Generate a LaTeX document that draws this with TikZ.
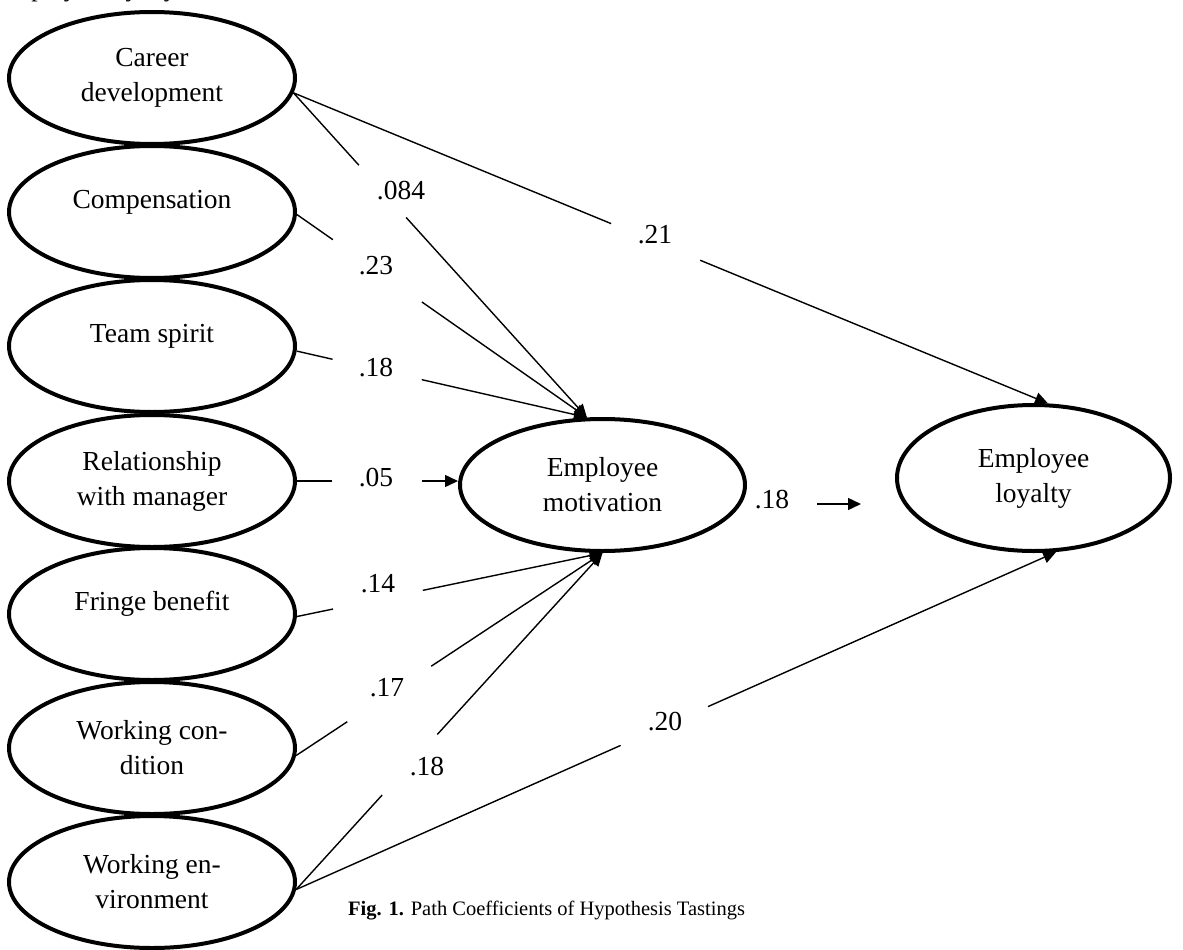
\documentclass[tikz,border=0pt]{standalone}
\usepackage{fontspec}
\setmainfont{Liberation Serif}
\usetikzlibrary{shapes.geometric,arrows.meta,calc}
\begin{document}
\begin{tikzpicture}[x=1pt,y=-1pt,
  latentbase/.style={ellipse,draw,line width=4pt,minimum width=286pt,minimum height=132pt,inner sep=0pt,font=\fontsize{27.5}{35}\selectfont},
  latent/.style={latentbase,align=center},
  single/.style={latentbase,text height=10pt,text depth=18pt},
  link/.style={line width=1.4pt},
  arr/.style={line width=1.4pt,-{Triangle[length=13pt,width=12pt]}},
  coef/.style={anchor=base,font=\fontsize{27.5}{33}\selectfont,inner sep=0pt}]
\useasboundingbox (0,0) rectangle (1183,950);

% cut-off running text at the top (only its descenders show, as in the reference)
\node[anchor=base west,font=\fontsize{25.5}{30}\selectfont,inner sep=0pt] (runin) at (0,-3) {employee loyalty};

% latent variables
\node[latent] (cd)   at (152,78)  {Career\\development};
\node[single] (comp) at (152,212) {Compensation};
\node[single] (team) at (152,346) {Team spirit};
\node[latent] (rel)  at (152,481) {Relationship\\with manager};
\node[single] (fb)   at (152,614) {Fringe benefit};
\node[latent] (wc)   at (152,748) {Working con-\\dition};
\node[latent] (we)   at (152,882) {Working en-\\vironment};
\node[latent,minimum width=285pt] (em) at (602.5,485) {Employee\\motivation};
\node[latent,minimum width=273pt,minimum height=146pt] (el) at (1033.5,478) {Employee\\loyalty};

% coefficients
\node[coef] (l084) at (401,199) {.084};
\node[coef] (l21)  at (655,243) {.21};
\node[coef] (l23)  at (376,274) {.23};
\node[coef] (l18a) at (376,376) {.18};
\node[coef] (l05)  at (376,486) {.05};
\node[coef] (l14)  at (378,592) {.14};
\node[coef] (l17)  at (387,696) {.17};
\node[coef] (l18b) at (427,775) {.18};
\node[coef] (l20)  at (665,730) {.20};
\node[coef] (l18c) at (772,508) {.18};

% connectors (broken where the coefficient sits)
\draw[link] (cd.-6) -- ($(cd.-6)!0.223!(em.103)$);
\draw[arr]  ($(cd.-6)!0.384!(em.103)$) -- (em.103);

\draw[link] (cd.-6) -- ($(cd.-6)!0.421!(el.79)$);
\draw[arr]  ($(cd.-6)!0.539!(el.79)$) -- (el.79);

\draw[link] (comp.-1) -- ($(comp.-1)!0.124!(em.103)$);
\draw[arr]  ($(comp.-1)!0.431!(em.103)$) -- (em.103);

\draw[link] (team.-2) -- ($(team.-2)!0.124!(em.103)$);
\draw[arr]  ($(team.-2)!0.431!(em.103)$) -- (em.103);

\coordinate (relend) at (rel.east -| em.west);
\draw[link] (rel.east) -- ($(rel.east)!0.217!(relend)$);
\draw[arr]  ($(rel.east)!0.776!(relend)$) -- (relend);

\draw[link] (fb.-1) -- ($(fb.-1)!0.118!(em.south)$);
\draw[arr]  ($(fb.-1)!0.412!(em.south)$) -- (em.south);

\draw[link] (wc.-3) -- ($(wc.-3)!0.167!(em.south)$);
\draw[arr]  ($(wc.-3)!0.441!(em.south)$) -- (em.south);

\draw[link] (we.-3) -- ($(we.-3)!0.281!(em.south)$);
\draw[arr]  ($(we.-3)!0.461!(em.south)$) -- (em.south);

\draw[link] (we.-3) -- ($(we.-3)!0.427!(el.-73)$);
\draw[arr]  ($(we.-3)!0.542!(el.-73)$) -- (el.-73);

\coordinate (ma) at (817,504);
\coordinate (mb) at (861,504);
\draw[arr] (ma) -- (mb);

% caption
\node[anchor=base west,font=\fontsize{20.5}{24}\selectfont,inner sep=0pt] (cap) at (348,915) {\textbf{Fig. 1.} Path Coefficients of Hypothesis Tastings};
\end{tikzpicture}
\end{document}
